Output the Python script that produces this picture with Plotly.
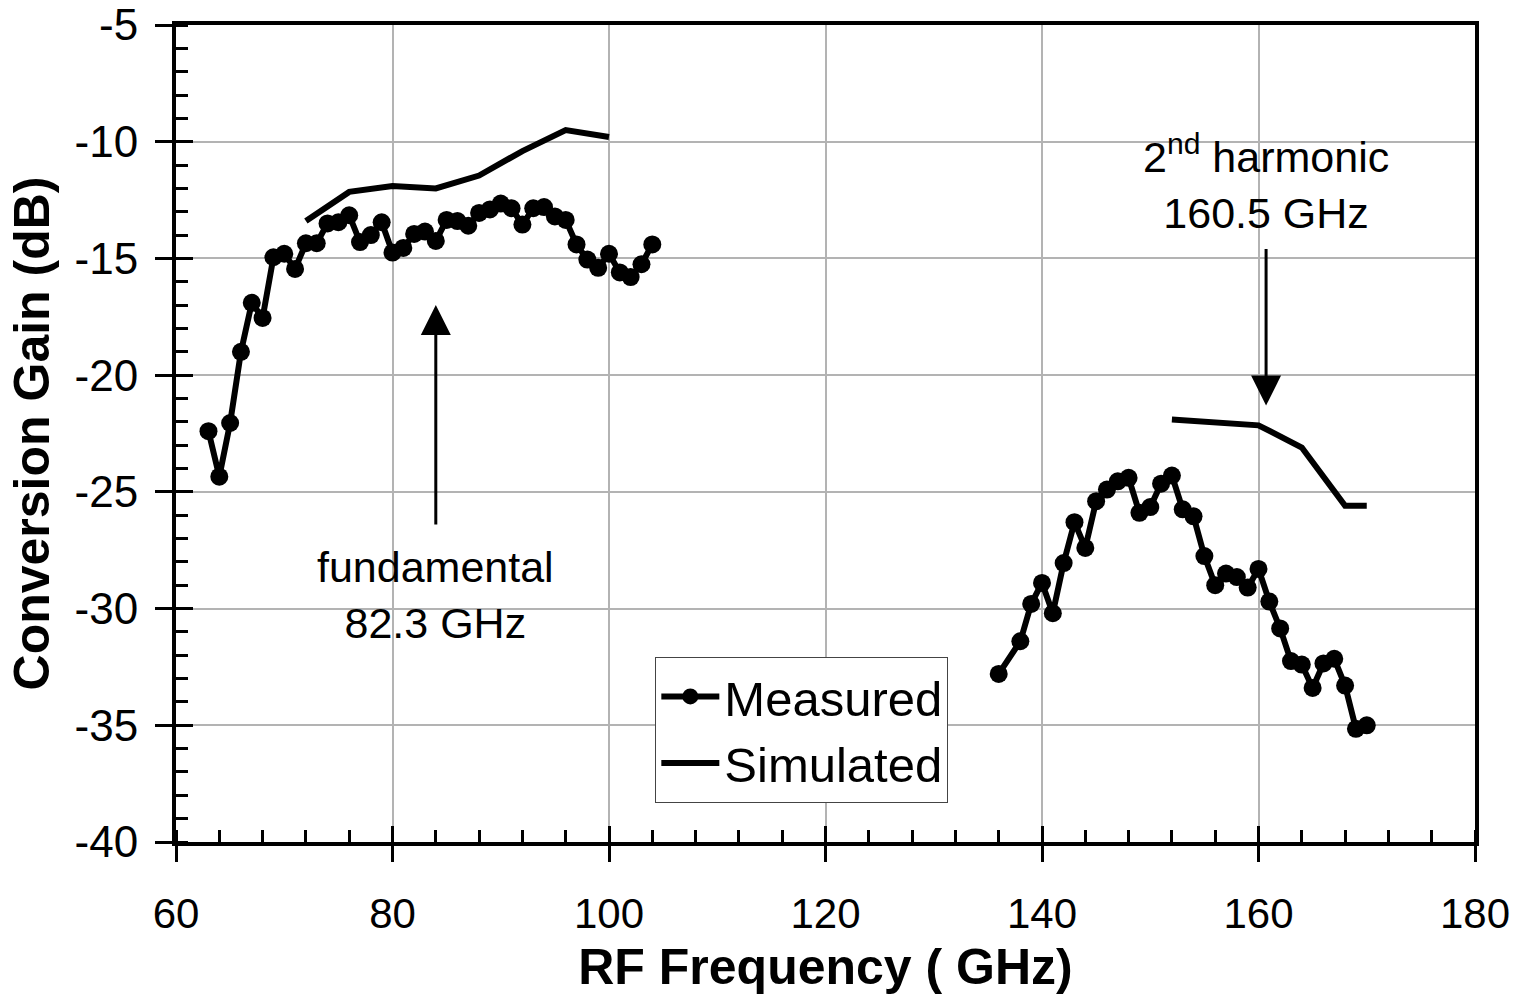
import plotly.graph_objects as go

# Measured data
meas_f1 = list(range(63, 105))
meas_g1 = [-22.4, -24.35, -22.05, -19.0, -16.9, -17.55, -14.95, -14.8, -15.45, -14.35,
           -14.35, -13.5, -13.45, -13.15, -14.3, -14.0, -13.45, -14.75, -14.55, -13.95,
           -13.85, -14.25, -13.35, -13.4, -13.6, -13.05, -12.9, -12.65, -12.85, -13.55,
           -12.85, -12.8, -13.2, -13.35, -14.4, -15.05, -15.4, -14.8, -15.6, -15.8,
           -15.25, -14.4]
meas_f2 = [136, 138, 139, 140, 141, 142, 143, 144, 145, 146, 147, 148, 149, 150, 151,
           152, 153, 154, 155, 156, 157, 158, 159, 160, 161, 162, 163, 164, 165, 166,
           167, 168, 169, 170]
meas_g2 = [-32.8, -31.4, -29.8, -28.9, -30.2, -28.05, -26.3, -27.4, -25.4, -24.9,
           -24.55, -24.4, -25.9, -25.65, -24.65, -24.3, -25.75, -26.05, -27.75, -29.0,
           -28.5, -28.65, -29.1, -28.3, -29.7, -30.85, -32.25, -32.4, -33.4, -32.35,
           -32.15, -33.3, -35.15, -35.0]

# Simulated data
sim_f1 = [72, 76, 80, 84, 88, 92, 96, 100]
sim_g1 = [-13.4, -12.15, -11.9, -12.0, -11.45, -10.4, -9.5, -9.8]
sim_f2 = [152, 160, 164, 168, 170]
sim_g2 = [-21.9, -22.15, -23.1, -25.6, -25.6]

# Tick labels
x_ticks = [60, 80, 100, 120, 140, 160, 180]
y_ticks = [-40, -35, -30, -25, -20, -15, -10, -5]
y_ticklabels = ["-40", "-35", "-30", "-25", "-20", "-15", "-10", "-5"]

meas_f = meas_f1 + [None] + meas_f2
meas_g = meas_g1 + [None] + meas_g2
sim_f = sim_f1 + [None] + sim_f2
sim_g = sim_g1 + [None] + sim_g2

FONT = "Liberation Sans, Arial, sans-serif"

fig = go.Figure()
fig.add_trace(go.Scatter(x=meas_f, y=meas_g, mode="lines+markers", name="Measured",
                         line=dict(color="black", width=6),
                         marker=dict(color="black", size=18),
                         connectgaps=False))
fig.add_trace(go.Scatter(x=sim_f, y=sim_g, mode="lines", name="Simulated",
                         line=dict(color="black", width=6), connectgaps=False))

# dummy trace for inside major ticks
fig.add_trace(go.Scatter(x=[None], y=[None], xaxis="x2", yaxis="y2", showlegend=False))

fig.update_layout(
    width=1524, height=1000,
    margin=dict(l=176, r=49, t=25, b=158, autoexpand=False),
    plot_bgcolor="white", paper_bgcolor="white",
    font=dict(family=FONT, color="black", size=42),
    showlegend=True,
    legend=dict(x=0.369, y=0.2264, xanchor="left", yanchor="top",
                bgcolor="white", bordercolor="#444", borderwidth=1,
                font=dict(size=49, family=FONT), itemwidth=58,
                tracegroupgap=0),
    xaxis=dict(range=[60, 180], tickvals=x_ticks, ticktext=[str(v) for v in x_ticks],
               showline=True, linecolor="black", linewidth=4, mirror=True,
               ticks="outside", ticklen=16, tickwidth=3, tickcolor="black",
               showgrid=True, gridcolor="#b3b3b3", gridwidth=1.5,
               zeroline=False, automargin=False,
               minor=dict(dtick=4, tick0=60, ticks="inside", ticklen=12, tickwidth=3,
                          tickcolor="black", showgrid=False),
               tickfont=dict(size=42, family=FONT),
               ticklabelstandoff=16,
               title=dict(text="<b>RF Frequency ( GHz)</b>",
                          font=dict(size=50, family=FONT), standoff=14)),
    yaxis=dict(range=[-40, -5], tickvals=y_ticks, ticktext=y_ticklabels,
               showline=True, linecolor="black", linewidth=4, mirror=True,
               ticks="outside", ticklen=17, tickwidth=3, tickcolor="black",
               showgrid=True, gridcolor="#b3b3b3", gridwidth=1.5,
               zeroline=False, automargin=False,
               minor=dict(dtick=1, tick0=-40, ticks="inside", ticklen=12, tickwidth=3,
                          tickcolor="black", showgrid=False),
               tickfont=dict(size=44, family=FONT),
               ticklabelstandoff=8,
               title=dict(text="<b>Conversion Gain (dB)</b>",
                          font=dict(size=50, family=FONT), standoff=10)),
    xaxis2=dict(overlaying="x", matches="x", anchor="y", side="bottom",
                range=[60, 180], tickvals=x_ticks, ticks="inside", ticklen=16,
                tickwidth=3, tickcolor="black", showticklabels=False,
                showgrid=False, zeroline=False, showline=False),
    yaxis2=dict(overlaying="y", matches="y", anchor="x", side="left",
                range=[-40, -5], tickvals=y_ticks, ticks="inside", ticklen=17,
                tickwidth=3, tickcolor="black", showticklabels=False,
                showgrid=False, zeroline=False, showline=False),
)

# Annotations with arrows (text sits at the arrow tail)
fig.add_annotation(x=84, y=-17.0, ax=84, ay=-26.4, axref="x", ayref="y",
                   xref="x", yref="y", text="fundamental<br>82.3 GHz",
                   yanchor="top", xanchor="center", showarrow=True,
                   arrowhead=2, arrowsize=2, arrowwidth=3, arrowcolor="black",
                   font=dict(size=43, family=FONT), align="center", borderpad=17)
fig.add_annotation(x=160.7, y=-21.3, ax=160.7, ay=-14.6, axref="x", ayref="y",
                   xref="x", yref="y", text="2<sup>nd</sup> harmonic<br>160.5 GHz",
                   yanchor="bottom", xanchor="center", showarrow=True,
                   arrowhead=2, arrowsize=2, arrowwidth=3, arrowcolor="black",
                   font=dict(size=43, family=FONT), align="center", borderpad=11)

fig.write_html("out.html")
